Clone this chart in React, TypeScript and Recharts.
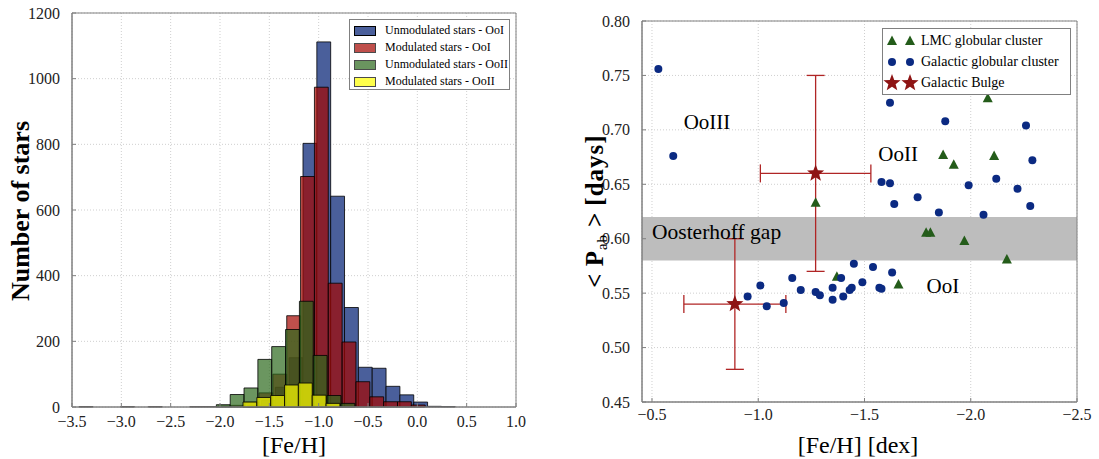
import React from 'react';
import {
  ComposedChart,
  ScatterChart,
  Scatter,
  XAxis,
  YAxis,
  CartesianGrid,
  ReferenceArea,
  ReferenceDot,
  ErrorBar,
} from 'recharts';

const FONT = '"Liberation Serif", "DejaVu Serif", serif';

// ---- left panel: [Fe/H] histograms (first bin edge + counts per series) ----
const BIN_W = 0.1403;
const unmodOoIStart = -1.72;
const unmodOoICounts = [5, 20, 60, 150, 803, 1112, 642, 303, 121, 118, 63, 37, 15, 2, 1];
const modOoIStart = -3.428;
const modOoICounts = [1, 0, 0, 1, 0, 1, 0, 0, 1, 1, 3, 5, 15, 43, 100, 278, 702, 974, 377, 198, 77, 31, 16, 16, 6];
const unmodOoIIStart = -2.037;
const unmodOoIICounts = [7, 38, 58, 145, 184, 236, 322, 157, 35, 11];
const modOoIIStart = -1.767;
const modOoIICounts = [15, 29, 35, 67, 73, 36, 11];

const histXTicks = [-3.5, -3.0, -2.5, -2.0, -1.5, -1.0, -0.5, 0.0, 0.5, 1.0];
const histYTicks = [0, 200, 400, 600, 800, 1000, 1200];

// ---- right panel: <Pab> vs [Fe/H] ----
const ggcFeH = [-0.53, -0.6, -1.62, -1.88, -2.26, -2.29, -1.58, -1.62, -1.64, -1.75, -1.85, -1.99, -2.12, -2.22, -2.28, -2.06,
  -0.95, -1.01, -1.04, -1.12, -1.16, -1.2, -1.27, -1.29, -1.35, -1.35, -1.39, -1.4, -1.43, -1.44, -1.45, -1.49, -1.54, -1.57, -1.58, -1.63];
const ggcPab = [0.756, 0.676, 0.725, 0.708, 0.704, 0.672, 0.652, 0.651, 0.632, 0.638, 0.624, 0.649, 0.655, 0.646, 0.63, 0.622,
  0.547, 0.557, 0.538, 0.541, 0.564, 0.553, 0.551, 0.548, 0.555, 0.544, 0.564, 0.547, 0.553, 0.555, 0.577, 0.56, 0.574, 0.555, 0.554, 0.569];

const lmcFeH = [-2.08, -1.87, -1.92, -2.11, -1.27, -1.79, -1.81, -1.97, -2.17, -1.37, -1.66];
const lmcPab = [0.729, 0.677, 0.668, 0.676, 0.633, 0.6055, 0.6055, 0.598, 0.581, 0.565, 0.558];

const bulgeFeH = [-1.27, -0.89];
const bulgePab = [0.66, 0.54];
const bulgeFeHErr = [0.26, 0.24];
const bulgePabErr = [0.09, 0.06];

const gapLow = 0.58;
const gapHigh = 0.62;

const pXTicks = [-0.5, -1.0, -1.5, -2.0, -2.5];
const pYTicks = [0.45, 0.5, 0.55, 0.6, 0.65, 0.7, 0.75, 0.8];

const ggcData = ggcFeH.map((x, i) => ({ x, y: ggcPab[i] }));
const lmcData = lmcFeH.map((x, i) => ({ x, y: lmcPab[i] }));
const bulgeData = bulgeFeH.map((x, i) => ({ x, y: bulgePab[i], xErr: bulgeFeHErr[i], yErr: bulgePabErr[i] }));

const histSeries = [
  { name: 'Unmodulated stars - OoI', start: unmodOoIStart, counts: unmodOoICounts, fill: '#4a5f9b', opacity: 1 },
  { name: 'Modulated stars - OoI', start: modOoIStart, counts: modOoICounts, fill: '#a40500', opacity: 0.7 },
  { name: 'Unmodulated stars - OoII', start: unmodOoIIStart, counts: unmodOoIICounts, fill: '#2c691c', opacity: 0.7 },
  { name: 'Modulated stars - OoII', start: modOoIIStart, counts: modOoIICounts, fill: '#ffff00', opacity: 0.7 },
];

const NAVY = '#0b2a82';
const GREEN = '#245c1a';
const DARKRED = '#8e1414';
const FRAME = '#808080';

const minus = (v: number, d: number) => (v < 0 ? '\u2212' : '') + Math.abs(v).toFixed(d);

// serif tick labels drawn by hand so the font is really applied
const makeTick = (side: 'x' | 'y', digits: number) => (p: any) => {
  const v = p.payload.value;
  const label = digits < 0 ? String(v) : minus(v, digits);
  return side === 'x' ? (
    <text x={p.x} y={p.y + 12} textAnchor="middle" fontSize={16} fontFamily={FONT} fill="#222">{label}</text>
  ) : (
    <text x={p.x} y={p.y} textAnchor="end" dominantBaseline="central" fontSize={16} fontFamily={FONT} fill="#222">{label}</text>
  );
};

const GgcDot = (p: any) => <circle cx={p.cx} cy={p.cy} r={4} fill={NAVY} />;
const LmcTri = (p: any) => (
  <polygon points={`${p.cx},${p.cy - 5.5} ${p.cx - 5},${p.cy + 4} ${p.cx + 5},${p.cy + 4}`} fill={GREEN} />
);
const starPoints = (cx: number, cy: number, ro: number, ri: number) => {
  const pts: string[] = [];
  for (let k = 0; k < 10; k++) {
    const r = k % 2 === 0 ? ro : ri;
    const a = -Math.PI / 2 + (k * Math.PI) / 5;
    pts.push(`${cx + r * Math.cos(a)},${cy + r * Math.sin(a)}`);
  }
  return pts.join(' ');
};
const BulgeStar = (p: any) => <polygon points={starPoints(p.cx, p.cy, 9, 3.8)} fill={DARKRED} />;

const RegionText = (p: any) => {
  const vb = p.viewBox || {};
  return (
    <text x={vb.x} y={vb.y} textAnchor={p.anchor || 'middle'} dominantBaseline="central"
      fontSize={p.size || 21} fontFamily={FONT} fill="#000">
      {p.text}
    </text>
  );
};

const tickLineStyle = { stroke: FRAME };

function Histogram() {
  return (
    <ComposedChart width={540} height={459} margin={{ top: 13, right: 24, bottom: 22, left: 12 }}>
      <CartesianGrid stroke="#cfcfcf" strokeDasharray="1 2" />
      <XAxis type="number" dataKey="x" domain={[-3.5, 1.0]} ticks={histXTicks} tick={makeTick('x', 1)}
        height={30} axisLine={{ stroke: FRAME }} tickLine={tickLineStyle} tickSize={-4} tickMargin={12} allowDataOverflow />
      <XAxis xAxisId="top" orientation="top" type="number" domain={[-3.5, 1.0]} ticks={histXTicks} tick={false}
        height={0} axisLine={false} tickLine={tickLineStyle} tickSize={-4} allowDataOverflow />
      <YAxis type="number" domain={[0, 1200]} ticks={histYTicks} tick={makeTick('y', -1)} width={60}
        axisLine={{ stroke: FRAME }} tickLine={tickLineStyle} tickSize={-4} tickMargin={16} allowDataOverflow />
      <YAxis yAxisId="right" orientation="right" type="number" domain={[0, 1200]} ticks={histYTicks} tick={false} width={0}
        axisLine={false} tickLine={tickLineStyle} tickSize={-4} allowDataOverflow />
      {histSeries.map((s) =>
        s.counts.map((c, i) =>
          c > 0 ? (
            <ReferenceArea key={`${s.name}-${i}`} x1={s.start + i * BIN_W} x2={s.start + (i + 1) * BIN_W} y1={0} y2={c}
              fill={s.fill} fillOpacity={s.opacity} stroke="#000" strokeOpacity={0.8} strokeWidth={1} ifOverflow="visible" />
          ) : null
        )
      )}
      <ReferenceArea x1={-3.5} x2={1.0} y1={0} y2={1200} fill="none" stroke={FRAME} strokeWidth={1} ifOverflow="visible" />
    </ComposedChart>
  );
}

function PeriodPlot() {
  return (
    <ScatterChart width={539} height={459} margin={{ top: 21, right: 22, bottom: 27, left: 22 }}>
      <CartesianGrid stroke="#cfcfcf" strokeDasharray="1 2" />
      <XAxis type="number" dataKey="x" domain={[-2.5, -0.453]} reversed ticks={pXTicks} tick={makeTick('x', 1)}
        height={30} axisLine={{ stroke: FRAME }} tickLine={tickLineStyle} tickSize={-4} tickMargin={10} allowDataOverflow />
      <XAxis xAxisId="top" orientation="top" type="number" domain={[-2.5, -0.453]} reversed ticks={pXTicks} tick={false}
        height={0} axisLine={false} tickLine={tickLineStyle} tickSize={-4} allowDataOverflow />
      <YAxis type="number" dataKey="y" domain={[0.45, 0.8]} ticks={pYTicks} tick={makeTick('y', 2)}
        width={60} axisLine={{ stroke: FRAME }} tickLine={tickLineStyle} tickSize={-4} tickMargin={16} allowDataOverflow />
      <YAxis yAxisId="right" orientation="right" type="number" domain={[0.45, 0.8]} ticks={pYTicks} tick={false} width={0}
        axisLine={false} tickLine={tickLineStyle} tickSize={-4} allowDataOverflow />
      <ReferenceArea x1={-2.5} x2={-0.453} y1={gapLow} y2={gapHigh} fill="#bdbdbd" fillOpacity={1} stroke="none" ifOverflow="visible" />
      <Scatter name="LMC globular cluster" data={lmcData} shape={LmcTri} isAnimationActive={false} />
      <Scatter name="Galactic globular cluster" data={ggcData} shape={GgcDot} isAnimationActive={false} />
      <Scatter name="Galactic Bulge" data={bulgeData} shape={BulgeStar} isAnimationActive={false}>
        <ErrorBar dataKey="yErr" direction="y" width={9} stroke="#b02525" strokeWidth={1.3} />
        <ErrorBar dataKey="xErr" direction="x" width={9} stroke="#b02525" strokeWidth={1.3} />
      </Scatter>
      <ReferenceDot x={-0.759} y={0.7073} r={0} fill="none" stroke="none" label={<RegionText text="OoIII" />} />
      <ReferenceDot x={-1.658} y={0.6777} r={0} fill="none" stroke="none" label={<RegionText text="OoII" />} />
      <ReferenceDot x={-1.869} y={0.5569} r={0} fill="none" stroke="none" label={<RegionText text="OoI" />} />
      <ReferenceDot x={-0.5} y={0.6064} r={0} fill="none" stroke="none" label={<RegionText text="Oosterhoff gap" anchor="start" size={21.5} />} />
      <ReferenceArea x1={-2.5} x2={-0.453} y1={0.45} y2={0.8} fill="none" stroke={FRAME} strokeWidth={1} ifOverflow="visible" />
    </ScatterChart>
  );
}

const HistLegend = () => (
  <div style={{ position: 'absolute', left: 349, top: 19, width: 161, height: 71, border: '1px solid #808080',
    background: '#fff', fontFamily: FONT, fontSize: 12, boxSizing: 'border-box' }}>
    {histSeries.map((s, i) => (
      <div key={s.name} style={{ position: 'absolute', left: 4, top: 4 + i * 17, height: 13, display: 'flex', alignItems: 'center', whiteSpace: 'nowrap' }}>
        <span style={{ display: 'inline-block', width: 20, height: 8, background: s.fill, opacity: s.opacity === 1 ? 1 : 0.7,
          border: '1px solid #000', marginRight: 9 }} />
        <span>{s.name}</span>
      </div>
    ))}
  </div>
);

const legendMarkers = [
  { name: 'LMC globular cluster', Shape: LmcTri },
  { name: 'Galactic globular cluster', Shape: GgcDot },
  { name: 'Galactic Bulge', Shape: BulgeStar },
];

const PeriodLegend = () => (
  <div style={{ position: 'absolute', left: 882, top: 28, width: 189, height: 67, border: '1px solid #808080',
    background: '#fff', fontFamily: FONT, fontSize: 14, boxSizing: 'border-box' }}>
    {legendMarkers.map((m, i) => (
      <div key={m.name} style={{ position: 'absolute', left: 0, top: 3 + i * 21, height: 18, display: 'flex', alignItems: 'center', whiteSpace: 'nowrap' }}>
        <svg width={38} height={18}>
          <m.Shape cx={9} cy={9} />
          <m.Shape cx={27} cy={9} />
        </svg>
        <span>{m.name}</span>
      </div>
    ))}
  </div>
);

const AxisTitles = () => (
  <svg width={1099} height={459} style={{ position: 'absolute', left: 0, top: 0, pointerEvents: 'none' }} fontFamily={FONT}>
    <text transform="translate(29,211) rotate(-90)" textAnchor="middle" fontSize={26} fontWeight="bold">Number of stars</text>
    <text x={294} y={453} textAnchor="middle" fontSize={24}>[Fe/H]</text>
    <text transform="translate(603,211) rotate(-90)" textAnchor="middle" fontSize={25} fontWeight="bold" letterSpacing={1}>
      {'<\u2009P'}
      <tspan fontSize={15} fontWeight="normal" dy={4}>ab</tspan>
      <tspan dy={-4} dx={1}>{'\u2009>\u2009[days]'}</tspan>
    </text>
    <text x={858} y={453} textAnchor="middle" fontSize={24}>[Fe/H] [dex]</text>
  </svg>
);

export default function App() {
  return (
    <div style={{ position: 'absolute', left: 0, top: 0, width: 1099, height: 459, background: '#fff', overflow: 'hidden', fontFamily: FONT }}>
      <div style={{ position: 'absolute', left: 0, top: 0 }}>
        <Histogram />
      </div>
      <div style={{ position: 'absolute', left: 560, top: 0 }}>
        <PeriodPlot />
      </div>
      <HistLegend />
      <PeriodLegend />
      <AxisTitles />
    </div>
  );
}
